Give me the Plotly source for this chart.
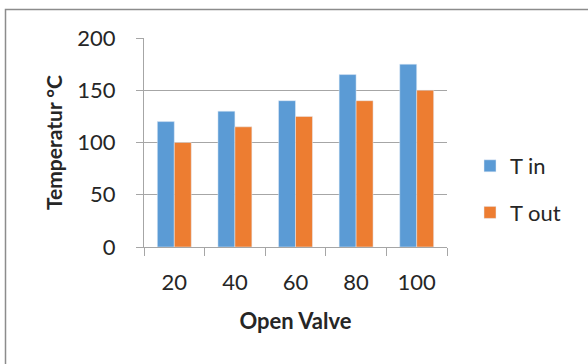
import plotly.graph_objects as go

# Valve opening (%) and measured temperatures (°C)
valve_open = ["20", "40", "60", "80", "100"]
t_in = [120, 130, 140, 165, 175]
t_out = [100, 115, 125, 140, 150]

BLUE = "#5B9BD5"
ORANGE = "#ED7D31"
GRID = "#A6A6A6"
FONT = "Lato, 'Open Sans', sans-serif"

W, H = 588, 364
L, R, T, B = 144, 141, 38, 117
pw, ph = W - L - R, H - T - B

def px_x(px):
    return (px - L) / pw

def px_y(py):
    return (H - B - py) / ph

fig = go.Figure()
fig.add_trace(go.Bar(x=valve_open, y=t_in, name="T in", marker_color=BLUE,
                     legendgroup="a"))
fig.add_trace(go.Bar(x=valve_open, y=t_out, name="T out", marker_color=ORANGE,
                     legendgroup="b"))

fig.update_layout(
    width=W, height=H,
    margin=dict(l=L, r=R, t=T, b=B),
    paper_bgcolor="white", plot_bgcolor="white",
    barmode="group", bargap=0.44, bargroupgap=0,
    font=dict(family=FONT, size=22, color="#262626"),
    showlegend=True,
    legend=dict(x=px_x(470), y=px_y(145), xanchor="left", yanchor="top",
                font=dict(size=22, color="#262626"), tracegroupgap=15,
                itemwidth=30, bgcolor="rgba(0,0,0,0)"),
    xaxis=dict(
        type="category", showgrid=False, showline=True, linecolor=GRID,
        linewidth=1, ticks="outside", tickson="boundaries", ticklen=8,
        tickcolor=GRID, ticklabelstandoff=16,
        title=dict(text="<b>Open Valve</b>", font=dict(size=22), standoff=19),
    ),
    yaxis=dict(
        range=[0, 200], dtick=50, showgrid=True, gridcolor=GRID, gridwidth=1,
        showline=True, linecolor=GRID, ticks="outside", ticklen=7,
        tickcolor=GRID, zeroline=False, ticklabelstandoff=16,
        title=dict(text="<b>Temperatur °C</b>", font=dict(size=21), standoff=8),
    ),
    shapes=[dict(type="rect", xref="paper", yref="paper",
                 x0=px_x(5.5), y0=px_y(400), x1=px_x(700), y1=px_y(9.5),
                 line=dict(color="#8C8C8C", width=1.5), layer="below")],
)

fig.write_html("out.html")
